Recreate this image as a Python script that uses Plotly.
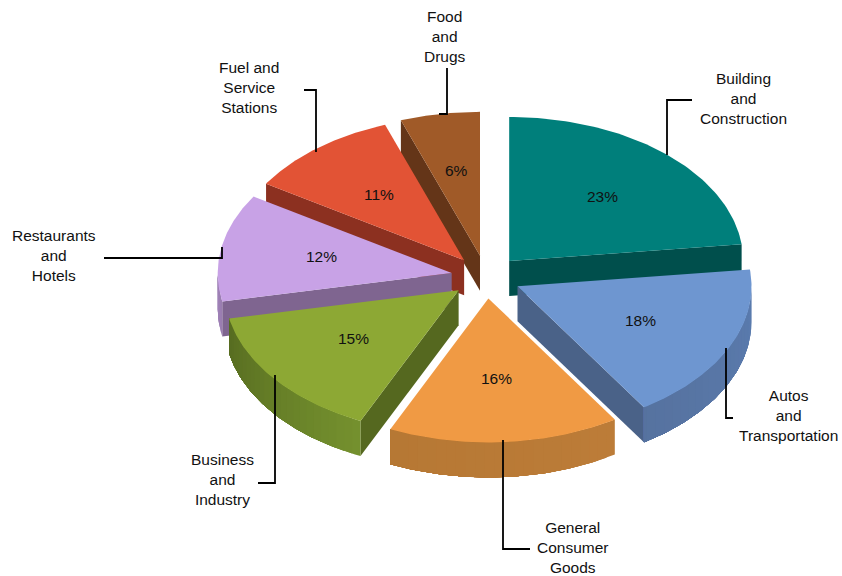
import math
import plotly.graph_objects as go

categories = ["Building<br>and<br>Construction", "Autos<br>and<br>Transportation",
              "General<br>Consumer<br>Goods", "Business<br>and<br>Industry",
              "Restaurants<br>and<br>Hotels", "Fuel and<br>Service<br>Stations",
              "Food<br>and<br>Drugs"]
values = [23.2, 17.8, 16.0, 15.0, 12.1, 10.6, 5.5]
top_colors = ["#007F7B", "#6E96D0", "#F09A44", "#8DA834", "#C8A2E6", "#E25335", "#A05A28"]
rim_start = ["#006662", "#5A7BAE", "#BC7C38", "#74902E", "#9A7DB0", "#B04028", "#804820"]
rim_end = ["#005552", "#56729F", "#B67834", "#566B20", "#A384BC", "#A03A24", "#704018"]
face_colors = ["#004F4C", "#4A6288", "#8A5C28", "#55681F", "#7F6590", "#8C3020", "#643518"]
draw_order = [6, 0, 5, 4, 1, 3, 2]

CX, CY, RX, RY, DEPTH, PULL = 486, 277, 234, 144, 35, 0.149
total = sum(values)


def hex_mix(c1, c2, f):
    a = [int(c1[i:i + 2], 16) for i in (1, 3, 5)]
    b = [int(c2[i:i + 2], 16) for i in (1, 3, 5)]
    return "rgb(%d,%d,%d)" % tuple(round(p + (q - p) * f) for p, q in zip(a, b))


def poly(xs, ys, color):
    return go.Scatter(x=xs, y=ys, mode="lines", fill="toself", fillcolor=color,
                      line=dict(color=color, width=0), hoverinfo="skip", showlegend=False)


angles = [0]
for v in values:
    angles.append(angles[-1] + 360 * v / total)

traces = []
for i in draw_order:
    t0, t1 = math.radians(angles[i]), math.radians(angles[i + 1])
    mid = (t0 + t1) / 2
    ax = CX + RX * PULL * math.sin(mid)
    ay = CY - RY * PULL * math.cos(mid)

    def edge(t):
        return ax + RX * math.sin(t), ay - RY * math.cos(t)

    steps = 72
    ts = [t0 + (t1 - t0) * k / steps for k in range(steps + 1)]
    # radial side faces that look toward the viewer
    for t, visible in ((t0, angles[i] > 180), (t1, 0 < angles[i + 1] < 180)):
        if visible:
            ex, ey = edge(t)
            traces.append(poly([ax, ex, ex, ax, ax], [ay, ey, ey + DEPTH, ay + DEPTH, ay], face_colors[i]))
    # outer rim, front half only; each band runs to the end so no seams show
    front = [t for t in ts if math.cos(t) < 0.0]
    if len(front) > 1:
        n = len(front) - 1
        for k in range(0, n, 3):
            pts = [edge(t) for t in front[k:]]
            xs = [p[0] for p in pts] + [p[0] for p in reversed(pts)]
            ys = [p[1] for p in pts] + [p[1] + DEPTH for p in reversed(pts)]
            c = hex_mix(rim_start[i], rim_end[i], k / n)
            traces.append(poly(xs + xs[:1], ys + ys[:1], c))
    # top surface
    pts = [edge(t) for t in ts]
    traces.append(poly([ax] + [p[0] for p in pts] + [ax], [ay] + [p[1] for p in pts] + [ay], top_colors[i]))

fig = go.Figure(traces)

pct_xy = [(602, 196), (640, 320), (496, 378), (353, 338), (321, 256), (379, 194), (456, 170)]
lab_xy = [(743, 98), (788, 415), (573, 547), (222, 479), (54, 255), (249, 87), (445, 36)]
annos = []
for v, c, p, l in zip(values, categories, pct_xy, lab_xy):
    annos.append(dict(x=p[0], y=p[1], text=f"{v:.0f}%", showarrow=False, xref="x", yref="y"))
    annos.append(dict(x=l[0], y=l[1], text=c, showarrow=False, xref="x", yref="y"))

leaders = [
    [(667, 155), (667, 100), (692, 100)],
    [(726, 348), (726, 418), (733, 418)],
    [(503, 440), (503, 549), (530, 549)],
    [(275, 375), (275, 483), (258, 483)],
    [(104, 258), (222, 258), (222, 247)],
    [(316, 152), (316, 90), (304, 90)],
    [(447, 68), (447, 114), (439, 114)],
]
for pts in leaders:
    fig.add_trace(go.Scatter(x=[p[0] for p in pts], y=[p[1] for p in pts], mode="lines",
                             line=dict(color="black", width=1.8), hoverinfo="skip", showlegend=False))

fig.update_layout(
    width=842, height=576, margin=dict(l=0, r=0, t=0, b=0), autosize=False,
    paper_bgcolor="white", plot_bgcolor="white", showlegend=False,
    font=dict(family="Liberation Sans", size=15.5, color="#111111"),
    xaxis=dict(range=[0, 842], visible=False, fixedrange=True),
    yaxis=dict(range=[576, 0], visible=False, fixedrange=True),
    annotations=annos,
)
fig.write_html("out.html", config={"displayModeBar": False},
               post_script="document.body.style.margin='0';document.body.style.overflow='hidden';")
